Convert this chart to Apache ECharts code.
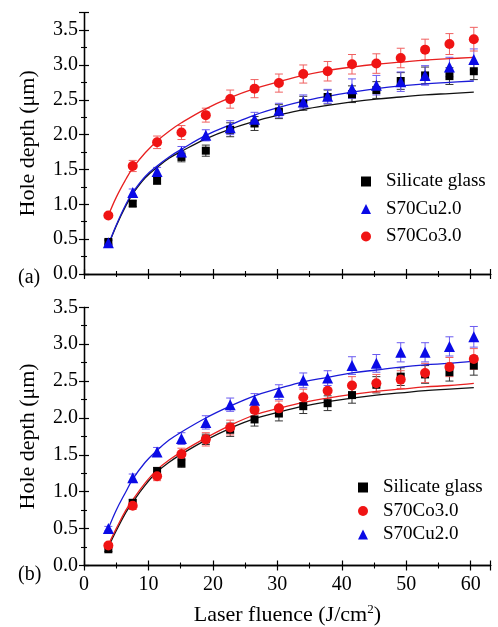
<!DOCTYPE html>
<html><head><meta charset="utf-8">
<script src="https://cdn.jsdelivr.net/npm/echarts@6/dist/echarts.min.js"></script>
<style>html,body{margin:0;padding:0;background:#fff}#c{width:498px;height:627px}</style>
</head><body><div id="c"></div>
<script>
// ---- data ----
const fluence = [3.78, 7.56, 11.34, 15.12, 18.9, 22.68, 26.46, 30.24, 34.02, 37.8, 41.58, 45.36, 49.14, 52.92, 56.7, 60.48];
// panel (a)
const aGlass = [0.46, 1.01, 1.34, 1.68, 1.77, 2.07, 2.16, 2.33, 2.45, 2.54, 2.58, 2.64, 2.77, 2.85, 2.84, 2.91];
const aCu    = [0.45, 1.17, 1.47, 1.75, 1.99, 2.10, 2.22, 2.35, 2.47, 2.55, 2.66, 2.71, 2.76, 2.85, 2.97, 3.08];
const aCo    = [0.84, 1.55, 1.89, 2.03, 2.28, 2.51, 2.66, 2.74, 2.87, 2.91, 3.01, 3.02, 3.10, 3.22, 3.30, 3.37];
const aGlassErr = [0.03, 0.04, 0.05, 0.07, 0.08, 0.10, 0.10, 0.10, 0.10, 0.10, 0.12, 0.12, 0.12, 0.12, 0.12, 0.12];
const aCuErr    = [0.03, 0.05, 0.06, 0.08, 0.08, 0.10, 0.10, 0.10, 0.10, 0.10, 0.14, 0.14, 0.14, 0.14, 0.14, 0.15];
const aCoErr    = [0.03, 0.08, 0.09, 0.10, 0.10, 0.13, 0.13, 0.13, 0.13, 0.14, 0.14, 0.14, 0.14, 0.15, 0.15, 0.17];
// panel (b)
const bGlass = [0.22, 0.85, 1.28, 1.39, 1.71, 1.84, 1.98, 2.06, 2.16, 2.20, 2.31, 2.45, 2.56, 2.59, 2.62, 2.71];
const bCo    = [0.27, 0.81, 1.21, 1.51, 1.71, 1.87, 2.11, 2.13, 2.28, 2.37, 2.44, 2.47, 2.52, 2.61, 2.69, 2.80];
const bCu    = [0.50, 1.19, 1.54, 1.72, 1.94, 2.18, 2.24, 2.35, 2.51, 2.54, 2.71, 2.74, 2.89, 2.89, 2.97, 3.10];
const bGlassErr = [0.03, 0.04, 0.05, 0.06, 0.07, 0.09, 0.09, 0.10, 0.10, 0.10, 0.11, 0.11, 0.12, 0.12, 0.12, 0.13];
const bCoErr    = [0.03, 0.05, 0.06, 0.08, 0.09, 0.10, 0.10, 0.10, 0.11, 0.11, 0.12, 0.12, 0.12, 0.13, 0.13, 0.14];
const bCuErr    = [0.03, 0.05, 0.06, 0.08, 0.09, 0.09, 0.09, 0.10, 0.10, 0.10, 0.12, 0.12, 0.13, 0.13, 0.13, 0.14];
// fitted curves
const fitX = [3.78, 5, 6.5, 7.56, 9.5, 11.34, 13.2, 15.12, 18.9, 22.68, 26.46, 30.24, 34.02, 37.8, 41.58, 45.36, 49.14, 52.92, 56.7, 60.48];
const aFitCo    = [0.84, 1.10, 1.36, 1.52, 1.74, 1.91, 2.05, 2.17, 2.37, 2.53, 2.66, 2.76, 2.85, 2.92, 2.97, 3.01, 3.04, 3.07, 3.09, 3.11];
const aFitCu    = [0.42, 0.70, 1.00, 1.17, 1.40, 1.55, 1.68, 1.79, 1.99, 2.14, 2.28, 2.39, 2.48, 2.55, 2.61, 2.66, 2.70, 2.73, 2.75, 2.77];
const aFitGlass = [0.41, 0.69, 0.98, 1.15, 1.38, 1.53, 1.66, 1.76, 1.94, 2.08, 2.19, 2.28, 2.36, 2.42, 2.47, 2.51, 2.54, 2.57, 2.59, 2.61];
const bFitCu    = [0.50, 0.75, 1.00, 1.17, 1.40, 1.56, 1.70, 1.81, 2.00, 2.16, 2.30, 2.40, 2.49, 2.55, 2.61, 2.65, 2.69, 2.72, 2.74, 2.77];
const bFitCo    = [0.28, 0.50, 0.75, 0.89, 1.12, 1.30, 1.43, 1.54, 1.73, 1.90, 2.04, 2.13, 2.21, 2.27, 2.32, 2.36, 2.39, 2.42, 2.44, 2.47];
const bFitGlass = [0.25, 0.47, 0.72, 0.86, 1.09, 1.27, 1.40, 1.51, 1.70, 1.86, 1.99, 2.08, 2.16, 2.22, 2.27, 2.31, 2.34, 2.37, 2.39, 2.41];
const xTicks = [0, 10, 20, 30, 40, 50, 60];
const names = { glass: 'Silicate glass', cu: 'S70Cu2.0', co: 'S70Co3.0' };

// ---- styles ----
const FONT = 'Liberation Serif';
const C = { glass: '#000000', cu: '#0a0ae6', co: '#f01414' };
const CE = { glass: '#333333', cu: '#6a5af0', co: '#f06060' };
const CL = { glass: '#111111', cu: '#1a1ad8', co: '#e82020' };

const chart = echarts.init(document.getElementById('c'), null, { renderer: 'canvas' });

function pairs(xs, ys) { return xs.map((x, i) => [x, ys[i]]); }
function errData(xs, ys, es) { return xs.map((x, i) => [x, ys[i], es[i]]); }

function errRender(params, api) {
  const x = api.value(0), y = api.value(1), e = api.value(2);
  const hi = api.coord([x, y + e]), lo = api.coord([x, y - e]);
  const w = 4;
  const st = { stroke: api.visual('color'), lineWidth: 1 };
  return { type: 'group', children: [
    { type: 'line', shape: { x1: hi[0], y1: hi[1], x2: lo[0], y2: lo[1] }, style: st },
    { type: 'line', shape: { x1: hi[0] - w, y1: hi[1], x2: hi[0] + w, y2: hi[1] }, style: st },
    { type: 'line', shape: { x1: lo[0] - w, y1: lo[1], x2: lo[0] + w, y2: lo[1] }, style: st }
  ]};
}

const axisLine = { show: true, lineStyle: { color: '#000', width: 1.3 } };
const tick = { show: true, inside: true, length: 5, lineStyle: { color: '#000', width: 1.2 } };
const minor = { show: true, splitNumber: 2, length: 3, lineStyle: { color: '#000', width: 1.1 } };
const xFmt = v => (xTicks.indexOf(Math.round(v * 1000) / 1000) >= 0 ? String(v) : '');
const yFmt = v => (Math.abs(v * 2 - Math.round(v * 2)) < 1e-6 ? v.toFixed(1) : '');

function xAx(grid, pos, labels) {
  const o = { type: 'value', gridIndex: grid, position: pos, min: 0, max: 63.1, interval: 10,
    axisLine, axisTick: tick, minorTick: minor, splitLine: { show: false },
    axisLabel: { show: labels, formatter: xFmt, fontFamily: FONT, fontSize: 20, color: '#000', margin: 9 } };
  if (labels) {
    o.name = 'Laser fluence (J/cm{sup|2})';
    o.nameLocation = 'middle';
    o.nameGap = 38;
    o.nameTextStyle = { fontFamily: FONT, fontSize: 22, color: '#000',
      rich: { sup: { fontFamily: FONT, fontSize: 13, color: '#000', verticalAlign: 'top', padding: [0, 0, 10, 0] } } };
  }
  return o;
}
function yAx(grid, pos, labels, max) {
  const o = { type: 'value', gridIndex: grid, position: pos, min: 0, max: max, interval: 0.5,
    axisLine, axisTick: tick, minorTick: minor, splitLine: { show: false },
    axisLabel: { show: labels, formatter: yFmt, fontFamily: FONT, fontSize: 20, color: '#000', margin: 6 } };
  if (labels) {
    o.name = 'Hole depth (\u03bcm)';
    o.nameLocation = 'middle';
    o.nameGap = 45;
    o.nameTextStyle = { fontFamily: FONT, fontSize: 22, color: '#000' };
  }
  return o;
}

function errSeries(xi, yi, xs, ys, es, key) {
  return { type: 'custom', xAxisIndex: xi, yAxisIndex: yi, renderItem: errRender,
    itemStyle: { color: CE[key] }, encode: { x: 0, y: 1 }, data: errData(xs, ys, es), z: 2, silent: true };
}
function fitSeries(xi, yi, ys, key, id) {
  return { type: 'line', name: id, xAxisIndex: xi, yAxisIndex: yi, data: pairs(fitX, ys), smooth: 0.4,
    showSymbol: false, symbol: 'none', lineStyle: { color: CL[key], width: 1.3 }, z: 3, silent: true };
}
const sym = { glass: 'rect', cu: 'triangle', co: 'circle' };
const ssize = { glass: 8, cu: 11, co: 10 };
function ptSeries(xi, yi, ys, key, z) {
  return { type: 'scatter', name: names[key], xAxisIndex: xi, yAxisIndex: yi, data: pairs(fluence, ys),
    symbol: sym[key], symbolSize: ssize[key], itemStyle: { color: C[key], opacity: 1 }, z: z };
}
const legendText = { fontFamily: FONT, fontSize: 19, color: '#000', padding: [0, 0, 0, 10] };

const option = {
  backgroundColor: '#fff',
  animation: false,
  title: [
    { text: '(a)', left: 13, top: 263, textStyle: { fontFamily: FONT, fontSize: 20, fontWeight: 'normal', color: '#000' } },
    { text: '(b)', left: 13, top: 560, textStyle: { fontFamily: FONT, fontSize: 20, fontWeight: 'normal', color: '#000' } }
  ],
  grid: [
    { left: 84, right: 7.3, top: 12.7, height: 261.3 },
    { left: 84, right: 7.3, top: 307.3, height: 259.4 }
  ],
  legend: [
    { data: [names.glass, names.cu, names.co], orient: 'vertical', left: 356, top: 167, itemWidth: 10, itemHeight: 10,
      itemGap: 8.5, textStyle: legendText },
    { data: [names.glass, names.co, names.cu], orient: 'vertical', left: 353, top: 473, itemWidth: 10, itemHeight: 10,
      itemGap: 4.5, textStyle: legendText }
  ],
  xAxis: [xAx(0, 'bottom', false), xAx(0, 'top', false), xAx(1, 'bottom', true), xAx(1, 'top', false)],
  yAxis: [yAx(0, 'left', true, 3.75), yAx(0, 'right', false, 3.75), yAx(1, 'left', true, 3.5), yAx(1, 'right', false, 3.5)],
  series: [
    // panel (a)
    errSeries(0, 0, fluence, aGlass, aGlassErr, 'glass'),
    errSeries(0, 0, fluence, aCu, aCuErr, 'cu'),
    errSeries(0, 0, fluence, aCo, aCoErr, 'co'),
    fitSeries(0, 0, aFitGlass, 'glass', 'fit-a-glass'),
    fitSeries(0, 0, aFitCu, 'cu', 'fit-a-cu'),
    fitSeries(0, 0, aFitCo, 'co', 'fit-a-co'),
    ptSeries(0, 0, aGlass, 'glass', 5),
    ptSeries(0, 0, aCu, 'cu', 6),
    ptSeries(0, 0, aCo, 'co', 7),
    // panel (b)
    errSeries(2, 2, fluence, bGlass, bGlassErr, 'glass'),
    errSeries(2, 2, fluence, bCo, bCoErr, 'co'),
    errSeries(2, 2, fluence, bCu, bCuErr, 'cu'),
    fitSeries(2, 2, bFitGlass, 'glass', 'fit-b-glass'),
    fitSeries(2, 2, bFitCo, 'co', 'fit-b-co'),
    fitSeries(2, 2, bFitCu, 'cu', 'fit-b-cu'),
    ptSeries(2, 2, bGlass, 'glass', 5),
    ptSeries(2, 2, bCo, 'co', 6),
    ptSeries(2, 2, bCu, 'cu', 7)
  ]
};
chart.setOption(option);
</script></body></html>
